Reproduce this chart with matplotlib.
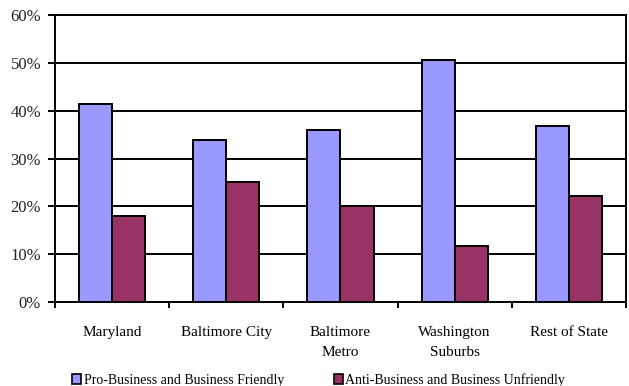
import matplotlib
matplotlib.use("Agg")
import matplotlib.pyplot as plt
import numpy as np
from matplotlib.patches import Patch
from matplotlib.ticker import FixedLocator, PercentFormatter

regions = ["Maryland", "Baltimore City", "Baltimore\nMetro", "Washington\nSuburbs", "Rest of State"]
pro_business = [41.4, 33.9, 36.0, 50.6, 36.8]
anti_business = [18.0, 25.1, 20.1, 11.7, 22.2]
series_names = ["Pro-Business and Business Friendly", "Anti-Business and Business Unfriendly"]
y_ticks = [0, 10, 20, 30, 40, 50, 60]

blue = "#9999FF"
plum = "#993366"

plt.rcParams["font.family"] = ["Liberation Serif", "DejaVu Serif"]

fig = plt.figure(figsize=(6.29, 3.86), dpi=100)
ax = fig.add_axes([0.0874, 0.2176, 0.9078, 0.7435])

x = np.arange(len(regions))
w = 0.29
ax.bar(x - w / 2, pro_business, w, color=blue, edgecolor="black", linewidth=1.4, zorder=3)
ax.bar(x + w / 2, anti_business, w, color=plum, edgecolor="black", linewidth=1.4, zorder=3)

ax.set_xlim(-0.5, len(regions) - 0.5)
ax.set_ylim(0, 60)
ax.set_yticks(y_ticks)
ax.yaxis.set_major_formatter(PercentFormatter(decimals=0))
ax.grid(axis="y", color="black", linewidth=1.4, zorder=0)

ax.set_xticks(x)
ax.set_xticklabels(regions, fontsize=11, linespacing=1.7)
ax.tick_params(axis="x", which="major", length=0, pad=17)
ax.xaxis.set_minor_locator(FixedLocator(np.arange(-0.5, len(regions), 1.0)))
ax.tick_params(axis="x", which="minor", length=4, width=1.4, direction="out")
ax.tick_params(axis="y", length=5, width=1.4, pad=5, labelsize=12, colors="black")
for lbl in ax.get_yticklabels():
    lbl.set_color("#222222")

for side in ["left", "right", "top", "bottom"]:
    ax.spines[side].set_linewidth(1.4)

handles = [Patch(facecolor=blue, edgecolor="black", linewidth=1.2),
           Patch(facecolor=plum, edgecolor="black", linewidth=1.2)]
fig.legend(handles, series_names, loc="lower left", bbox_to_anchor=(0.113, -0.006),
           ncol=2, frameon=False, fontsize=10, handlelength=0.65, handleheight=0.65,
           handletextpad=0.15, columnspacing=3.6, borderaxespad=0.0, borderpad=0.1)

fig.savefig("out.png", dpi=100)
